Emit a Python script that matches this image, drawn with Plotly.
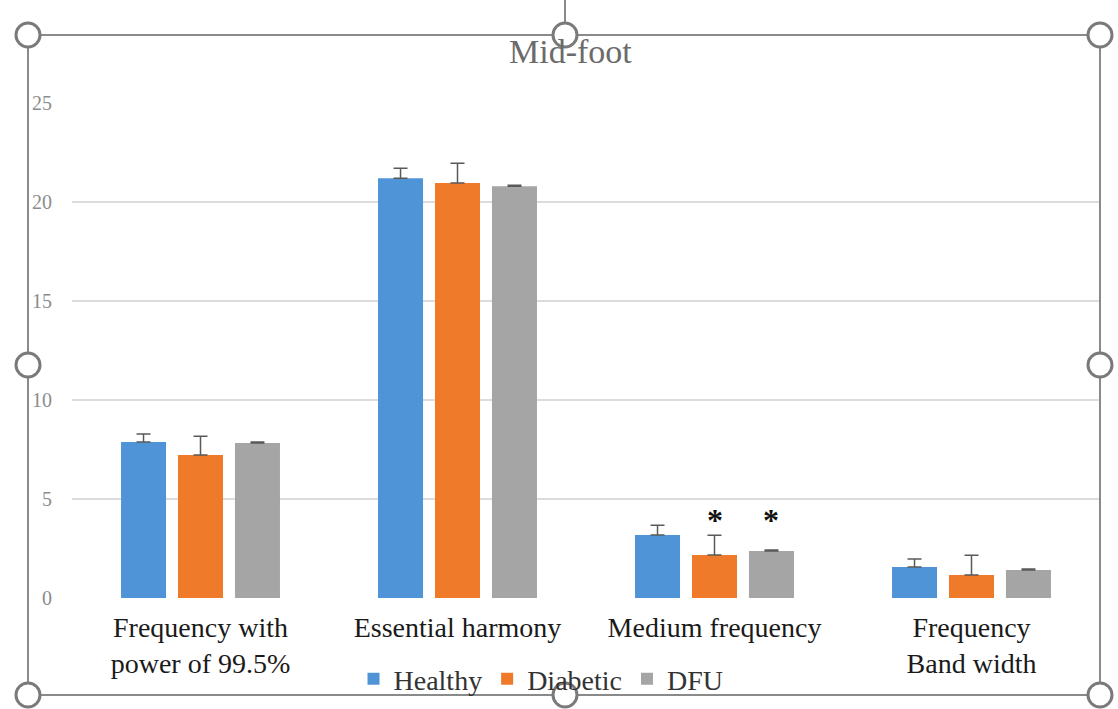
import plotly.graph_objects as go

W, H = 1118, 709

categories = ["Frequency with<br>power of 99.5%", "Essential harmony", "Medium frequency", "Frequency<br>Band width"]
series_names = ["Healthy", "Diabetic", "DFU"]
healthy = [7.88, 21.2, 3.18, 1.57]
diabetic = [7.22, 20.96, 2.17, 1.16]
dfu = [7.83, 20.8, 2.37, 1.41]
healthy_err = [0.4, 0.5, 0.5, 0.4]
diabetic_err = [0.95, 1.0, 1.0, 1.0]
dfu_err = [0.05, 0.05, 0.05, 0.05]
colors = ["#5094D8", "#EE7A2A", "#A5A5A5"]
y_ticks = [0, 5, 10, 15, 20, 25]
title_text = "Mid-foot"
# significance markers: (category index, series index)
stars = [(2, 1), (2, 2)]
star_y = 3.95

BARGAP = 0.335
BARGROUPGAP = 0.21

fig = go.Figure()
for name, vals, errs, col in zip(series_names, [healthy, diabetic, dfu],
                                 [healthy_err, diabetic_err, dfu_err], colors):
    fig.add_trace(go.Bar(
        name=name, x=categories, y=vals, marker=dict(color=col, line=dict(width=0)),
        error_y=dict(type="data", array=errs, symmetric=False, arrayminus=[0] * len(errs),
                     color="#595959", thickness=1.5, width=7),
    ))

def px_x(p):
    return p / W

def px_y(p):
    return 1 - p / H

slot = (1 - BARGAP) / len(series_names)
annotations = []
for ci, si in stars:
    annotations.append(dict(
        x=ci + (si - 1) * slot, y=star_y, xref="x", yref="y", text="<b>*</b>",
        showarrow=False, font=dict(family="Liberation Serif", size=32, color="#111111"),
        yanchor="middle", xanchor="center"))

annotations.append(dict(
    x=px_x(570), y=px_y(51), xref="paper", yref="paper", text=title_text, showarrow=False,
    font=dict(family="Liberation Serif", size=34, color="#6b6b6b"), xanchor="center", yanchor="middle"))

shapes = []
line_col = "#8a8a8a"
# selection frame
shapes.append(dict(type="rect", xref="paper", yref="paper", x0=px_x(28), x1=px_x(1100),
                   y0=px_y(695), y1=px_y(35), line=dict(color=line_col, width=2), layer="above"))
# rotation handle stem
shapes.append(dict(type="line", xref="paper", yref="paper", x0=px_x(565), x1=px_x(565),
                   y0=px_y(0), y1=px_y(24), line=dict(color=line_col, width=2), layer="above"))
handles = [(28, 35), (565, 35), (1100, 35), (28, 365), (1100, 365), (28, 695), (565, 695), (1100, 695)]
for hx, hy in handles:
    shapes.append(dict(type="circle", xref="paper", yref="paper", xsizemode="pixel", ysizemode="pixel",
                       xanchor=px_x(hx), yanchor=px_y(hy), x0=-12, x1=12, y0=-12, y1=12,
                       line=dict(color="#7a7a7a", width=3), fillcolor="white", layer="above"))

fig.update_layout(
    width=W, height=H,
    margin=dict(l=0, r=0, t=0, b=0, autoexpand=False),
    paper_bgcolor="white", plot_bgcolor="white",
    barmode="group", bargap=BARGAP, bargroupgap=BARGROUPGAP,
    showlegend=True,
    legend=dict(orientation="h", x=px_x(541), y=px_y(679), xanchor="center", yanchor="middle",
                font=dict(family="Liberation Serif", size=28, color="#333333"),
                itemwidth=30, bgcolor="rgba(0,0,0,0)"),
    xaxis=dict(domain=[px_x(72), px_x(1100)], showgrid=False, showline=False, zeroline=False,
               automargin=False,
               ticks="outside", ticklen=4, tickcolor="rgba(0,0,0,0)",
               tickfont=dict(family="Liberation Serif", size=28, color="#1a1a1a")),
    yaxis=dict(domain=[px_y(598), px_y(103)], range=[0, 25], tickvals=y_ticks,
               showgrid=True, gridcolor="#dcdcdc", gridwidth=1.5, zeroline=False, showline=False,
               automargin=False,
               ticks="outside", ticklen=15, tickcolor="rgba(0,0,0,0)",
               tickfont=dict(family="Liberation Serif", size=20, color="#8c8c8c")),
    annotations=annotations,
    shapes=shapes,
)

fig.write_html("out.html", config={"displayModeBar": False},
               post_script="document.body.style.margin='0';document.body.style.overflow='hidden';")
